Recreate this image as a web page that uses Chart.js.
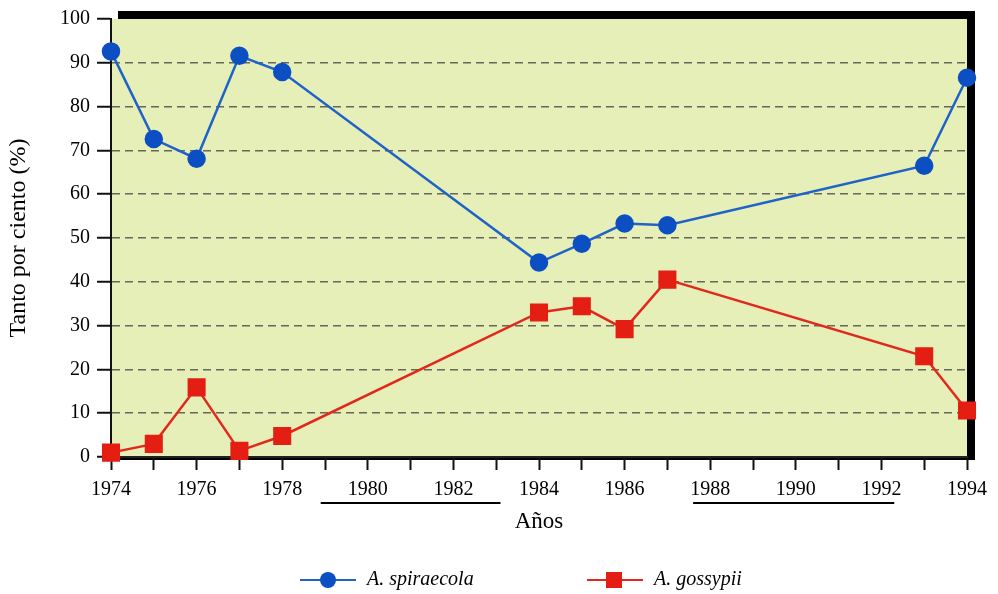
<!DOCTYPE html>
<html>
<head>
<meta charset="utf-8">
<script src="https://cdn.jsdelivr.net/npm/chart.js@4"></script>
<style>
  body { margin: 0; background: #fff; }
  #wrap { width: 998px; height: 594px; }
</style>
</head>
<body>
<div id="wrap"><canvas id="myChart"></canvas></div>
<script>
// Datos
const years = [1974, 1975, 1976, 1977, 1978, 1984, 1985, 1986, 1987, 1993, 1994];
const spiraecola = [92.6, 72.6, 68.1, 91.6, 87.9, 44.4, 48.7, 53.3, 52.9, 66.5, 86.6];
const gossypii = [1.0, 3.0, 15.9, 1.4, 4.8, 33.0, 34.4, 29.2, 40.5, 23.0, 10.6];
const yTicks = [0, 10, 20, 30, 40, 50, 60, 70, 80, 90, 100];
// tramos subrayados bajo el eje de años
const gaps = [[1978.9, 1983.1], [1987.6, 1992.3]];

const serif = '"Liberation Serif", "Times New Roman", serif';

// Fondo, sombra negra del marco y subrayados
const decor = {
    id: 'decor',
    beforeDraw(chart) {
        const { ctx, chartArea: a } = chart;
        ctx.save();
        ctx.fillStyle = '#fff';
        ctx.fillRect(0, 0, chart.width, chart.height);
        ctx.fillStyle = '#000';
        ctx.fillRect(a.left + 7, a.top - 8, a.right - a.left + 1, a.bottom - a.top + 11);
        ctx.fillStyle = '#e6efb8';
        ctx.fillRect(a.left, a.top, a.right - a.left, a.bottom - a.top);
        ctx.restore();
    },
    afterDraw(chart) {
        const { ctx } = chart;
        const x = chart.scales.x;
        ctx.save();
        ctx.strokeStyle = '#000';
        ctx.lineWidth = 2;
        gaps.forEach(g => {
            ctx.beginPath();
            ctx.moveTo(x.getPixelForValue(g[0]), 503);
            ctx.lineTo(x.getPixelForValue(g[1]), 503);
            ctx.stroke();
        });

        // leyenda
        const items = [
            { x: 300, label: 'A. spiraecola', ds: 0 },
            { x: 587, label: 'A. gossypii', ds: 1 }
        ];
        const y = 580;
        items.forEach(it => {
            const ds = chart.data.datasets[it.ds];
            ctx.strokeStyle = ds.borderColor;
            ctx.lineWidth = 2;
            ctx.beginPath();
            ctx.moveTo(it.x, y);
            ctx.lineTo(it.x + 56, y);
            ctx.stroke();
            ctx.fillStyle = ds.pointBackgroundColor;
            if (ds.pointStyle === 'rect') {
                ctx.fillRect(it.x + 19, y - 8, 16, 16);
            } else {
                ctx.beginPath();
                ctx.arc(it.x + 28, y, 8, 0, Math.PI * 2);
                ctx.fill();
            }
            ctx.fillStyle = '#000';
            ctx.font = 'italic 20px ' + serif;
            ctx.textBaseline = 'middle';
            ctx.textAlign = 'left';
            ctx.fillText(it.label, it.x + 67, y);
        });
        ctx.restore();
    }
};

const ctx = document.getElementById('myChart').getContext('2d');
new Chart(ctx, {
    type: 'line',
    data: {
        datasets: [
            {
                label: 'A. spiraecola',
                data: years.map((yr, i) => ({ x: yr, y: spiraecola[i] })),
                borderColor: '#1f63c9',
                borderWidth: 2.5,
                pointBackgroundColor: '#0c4fc2',
                pointBorderColor: '#0c4fc2',
                pointRadius: 8,
                pointStyle: 'circle',
                tension: 0,
                clip: false
            },
            {
                label: 'A. gossypii',
                data: years.map((yr, i) => ({ x: yr, y: gossypii[i] })),
                borderColor: '#e2281c',
                borderWidth: 2.5,
                pointBackgroundColor: '#e41e12',
                pointBorderColor: '#e41e12',
                pointRadius: 11,
                pointStyle: 'rect',
                tension: 0,
                clip: false
            }
        ]
    },
    options: {
        responsive: true,
        maintainAspectRatio: false,
        animation: false,
        layout: { padding: { top: 18, right: 31, bottom: 57, left: 0 } },
        plugins: { legend: { display: false }, tooltip: { enabled: false } },
        scales: {
            x: {
                type: 'linear',
                min: 1974,
                max: 1994,
                afterFit: s => { s.height = 80; },
                afterBuildTicks: s => { s.ticks = Array.from({ length: 21 }, (_, i) => ({ value: 1974 + i })); },
                ticks: {
                    autoSkip: false,
                    maxRotation: 0,
                    padding: 8,
                    color: '#000',
                    font: { family: serif, size: 20 },
                    callback: v => (v % 2 === 0 ? String(v) : '')
                },
                grid: { drawOnChartArea: false, tickLength: 13, tickColor: '#111', tickWidth: 2 },
                border: { color: '#222', width: 2 },
                title: {
                    display: true,
                    text: 'Años',
                    color: '#000',
                    font: { family: serif, size: 23 },
                    padding: { top: 0, bottom: 1 }
                }
            },
            y: {
                min: 0,
                max: 100,
                afterFit: s => { s.width = 111; },
                afterBuildTicks: s => { s.ticks = yTicks.map(v => ({ value: v })); },
                ticks: {
                    padding: 7,
                    color: '#000',
                    font: { family: serif, size: 20 }
                },
                grid: {
                    color: c => (c.tick && (c.tick.value === 0 || c.tick.value === 100) ? 'rgba(0,0,0,0)' : '#66665a'),
                    lineWidth: 1.5,
                    tickLength: 14,
                    tickColor: '#111',
                    tickWidth: 2
                },
                border: { color: '#111', width: 2, dash: [8, 5] },
                title: {
                    display: true,
                    text: 'Tanto por ciento (%)',
                    color: '#000',
                    font: { family: serif, size: 24 },
                    padding: { top: 4, bottom: 0 }
                }
            }
        }
    },
    plugins: [decor]
});
</script>
</body>
</html>
